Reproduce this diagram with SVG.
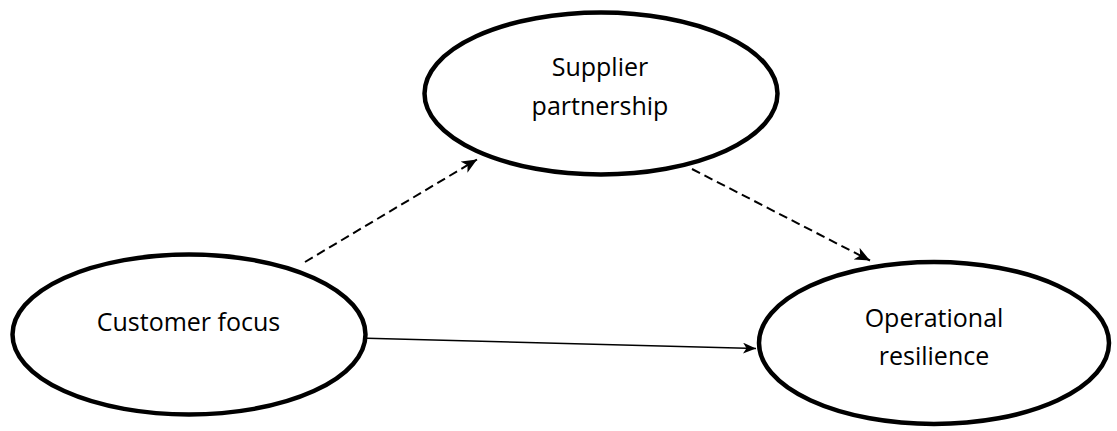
<svg xmlns="http://www.w3.org/2000/svg" width="1117" height="431" viewBox="0 0 1117 431">
  <style>
    .node ellipse { fill: #ffffff; stroke: #000000; stroke-width: 4.5; }
    .node text { font-family: "Open Sans", "DejaVu Sans", sans-serif; font-size: 25px; fill: #000000; text-anchor: middle; }
    .edge { fill: none; stroke: #000000; }
    .dashed { stroke-width: 2; stroke-dasharray: 9 5; }
    .solid { stroke-width: 1.6; }
  </style>
  <defs>
    <marker id="arrowBig" markerUnits="userSpaceOnUse" markerWidth="15" markerHeight="13" viewBox="0 0 15 13" refX="15" refY="6.5" orient="auto">
      <path d="M0,0 L15,6.5 L0,13 L4,6.5 z" fill="#000000"/>
    </marker>
    <marker id="arrowSmall" markerUnits="userSpaceOnUse" markerWidth="13" markerHeight="11" viewBox="0 0 13 11" refX="13" refY="5.5" orient="auto">
      <path d="M0,0 L13,5.5 L0,11 L3.5,5.5 z" fill="#000000"/>
    </marker>
  </defs>

  <g id="connectors">
    <line class="edge dashed" x1="305" y1="262" x2="477" y2="159.5" marker-end="url(#arrowBig)"/>
    <line class="edge dashed" x1="692" y1="169" x2="870" y2="260.5" marker-end="url(#arrowBig)"/>
    <line class="edge solid" x1="367" y1="338.3" x2="756" y2="348.5" marker-end="url(#arrowSmall)"/>
  </g>

  <g id="node-supplier" class="node">
    <ellipse cx="601" cy="93.5" rx="176.5" ry="81"/>
    <text x="600" y="76">Supplier</text>
    <text x="600" y="115">partnership</text>
  </g>

  <g id="node-customer" class="node">
    <ellipse cx="189" cy="334.5" rx="176.5" ry="80"/>
    <text x="188.5" y="331">Customer focus</text>
  </g>

  <g id="node-operational" class="node">
    <ellipse cx="934" cy="343" rx="175" ry="81"/>
    <text x="934" y="327">Operational</text>
    <text x="934" y="365">resilience</text>
  </g>
</svg>
